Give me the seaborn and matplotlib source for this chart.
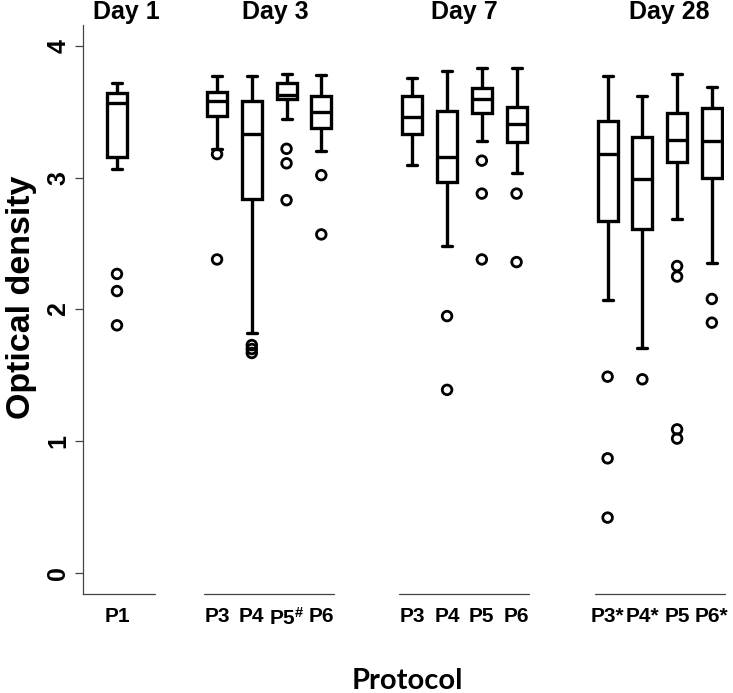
import numpy as np
import pandas as pd
import matplotlib
matplotlib.use("Agg")
import matplotlib.pyplot as plt
import seaborn as sns

days = ["Day 1", "Day 3", "Day 7", "Day 28"]
protocols = [
    ["P1"],
    ["P3", "P4", "P5$^{\\#}$", "P6"],
    ["P3", "P4", "P5", "P6"],
    ["P3*", "P4*", "P5", "P6*"],
]
# lower whisker, Q1, median, Q3, upper whisker
day1_stats = [[3.07, 3.16, 3.57, 3.64, 3.72]]
day3_stats = [
    [3.22, 3.47, 3.58, 3.65, 3.77],
    [1.82, 2.84, 3.33, 3.58, 3.77],
    [3.45, 3.60, 3.63, 3.72, 3.79],
    [3.20, 3.38, 3.50, 3.62, 3.78],
]
day7_stats = [
    [3.10, 3.33, 3.46, 3.62, 3.76],
    [2.48, 2.97, 3.16, 3.51, 3.81],
    [3.28, 3.49, 3.60, 3.68, 3.83],
    [3.04, 3.27, 3.41, 3.54, 3.83],
]
day28_stats = [
    [2.07, 2.67, 3.18, 3.43, 3.77],
    [1.71, 2.61, 2.99, 3.31, 3.62],
    [2.69, 3.12, 3.29, 3.49, 3.79],
    [2.35, 3.00, 3.28, 3.53, 3.69],
]
day1_out = [[2.27, 2.14, 1.88]]
day3_out = [[3.18, 2.38], [1.73, 1.70, 1.67], [3.22, 3.11, 2.83], [3.02, 2.57]]
day7_out = [[], [1.95, 1.39], [3.13, 2.88, 2.38], [2.88, 2.36]]
day28_out = [[1.49, 0.87, 0.42], [1.47], [2.33, 2.25, 1.09, 1.02], [2.08, 1.90]]

all_stats = [day1_stats, day3_stats, day7_stats, day28_stats]
all_out = [day1_out, day3_out, day7_out, day28_out]

# layout: where each day's first box sits (box spacing = 1)
group_start = [0, 2.88, 8.5, 14.12]

box_rows, out_rows, tick_pos, tick_lab = [], [], [], []
for g, (stats, outs) in enumerate(zip(all_stats, all_out)):
    for j, (s, o) in enumerate(zip(stats, outs)):
        pos = group_start[g] + j
        tick_pos.append(pos)
        tick_lab.append(protocols[g][j])
        for v in s:
            box_rows.append({"pos": pos, "value": v})
        for v in o:
            out_rows.append({"pos": pos, "value": v})
box_df = pd.DataFrame(box_rows)
out_df = pd.DataFrame(out_rows)

sns.set_style("white")
plt.rcParams["font.family"] = ["Liberation Sans", "DejaVu Sans"]
plt.rcParams["mathtext.fontset"] = "custom"
plt.rcParams["mathtext.rm"] = "Liberation Sans:bold"
plt.rcParams["mathtext.it"] = "Liberation Sans:bold"
plt.rcParams["mathtext.bf"] = "Liberation Sans:bold"
plt.rcParams["text.color"] = "black"
plt.rcParams["xtick.labelcolor"] = "black"
plt.rcParams["ytick.labelcolor"] = "black"

W, H = 733, 693
fig = plt.figure(figsize=(W / 100, H / 100), dpi=100)
ax = fig.add_axes([83 / W, (H - 594) / H, (724 - 83) / W, (594 - 25) / H])

sns.boxplot(data=box_df, x="pos", y="value", native_scale=True, orient="x",
            whis=(0, 100), width=0.575, color="white", linecolor="black",
            linewidth=2.4, showfliers=False, ax=ax)
sns.scatterplot(data=out_df, x="pos", y="value", marker="o", s=48,
                facecolors="none", edgecolor="black", linewidth=2.0,
                zorder=5, ax=ax)

ax.set_xlim(-0.978, 17.47)
ax.set_ylim(-0.16, 4.16)
ax.set_xlabel("")
ax.set_ylabel("")

for side in ["top", "right", "bottom"]:
    ax.spines[side].set_visible(False)
ax.spines["left"].set_linewidth(0.9)
ax.spines["left"].set_color("#444444")

# separate baseline under each day
seg_pad = [(0.978, 1.09), (0.37, 0.37), (0.37, 0.37), (0.37, 0.37)]
for g, stats in enumerate(all_stats):
    x0 = group_start[g] - seg_pad[g][0]
    x1 = group_start[g] + len(stats) - 1 + seg_pad[g][1]
    ax.plot([x0, x1], [-0.16, -0.16], color="#444444", lw=0.9, clip_on=False)

ax.set_yticks([0, 1, 2, 3, 4])
ax.set_yticklabels(["0", "1", "2", "3", "4"], rotation=90, va="center",
                   fontsize=18, fontweight="bold", color="black")
ax.tick_params(axis="y", length=6, width=0.9, color="#444444", pad=3, left=True)
ax.set_xticks(tick_pos)
ax.set_xticklabels(tick_lab, fontsize=15, fontweight="bold", color="black")
ax.tick_params(axis="x", length=0, pad=9)
ax.grid(False)

title_px = [126.5, 275, 464, 669]
for t, xp in zip(days, title_px):
    fig.text(xp / W, 1 - 12 / H, t, ha="center", va="center",
             fontsize=18, fontweight="bold", color="black")

fig.text(22 / W, 1 - 297 / H, "Optical density", rotation=90, ha="center",
         va="center", fontsize=24.5, fontweight="bold", color="black")
fig.text(407 / W, 1 - 681 / H, "Protocol", ha="center", va="center",
         fontsize=21, fontweight="bold", color="black",
         family=["Lato", "DejaVu Sans"])

fig.savefig("out.png", dpi=100)
